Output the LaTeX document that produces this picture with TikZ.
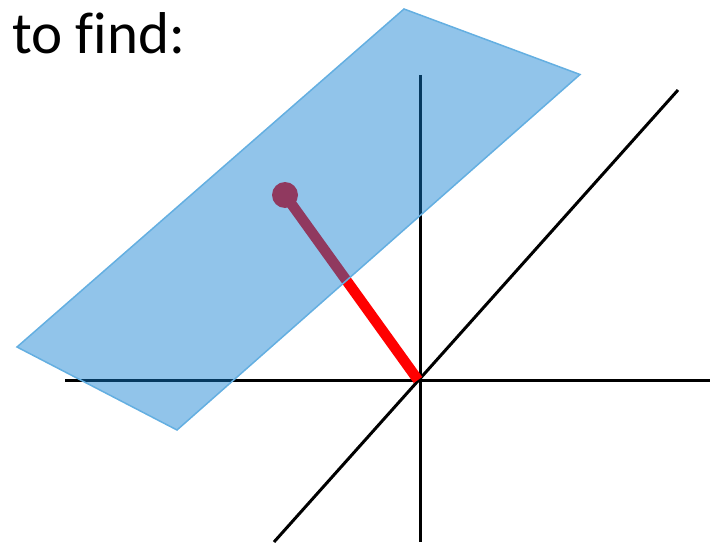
\documentclass[tikz,border=0pt]{standalone}
\usepackage{fontspec}
\setmainfont{Carlito}[Ligatures=NoCommon]
\usepackage{tikz}
\usetikzlibrary{positioning,calc}
\definecolor{planeblue}{RGB}{15,126,209}
\definecolor{planeedge}{RGB}{100,175,225}
\tikzset{
  axisline/.style={draw=black,line width=3pt},
  vecline/.style={draw=red,line width=10.5pt},
  tipdot/.style={circle,fill=red,inner sep=0pt,minimum size=26pt},
  plane/.style={fill=planeblue,fill opacity=0.46,draw=planeedge,line width=1.5pt},
  title/.style={font=\fontsize{59}{59}\selectfont,anchor=base west,inner sep=0pt},
}

\begin{document}
\begin{tikzpicture}[x=1pt,y=-1pt]
  \useasboundingbox (0,0) rectangle (710,543);
  \coordinate (xl) at (65,380);  \coordinate (xr) at (710,380);
  \coordinate (zt) at (420,75);  \coordinate (zb) at (420,542);
  \coordinate (yt) at (678,90);  \coordinate (yb) at (274,542);
  \coordinate (orig) at (418,380);
  \node[title] (lbl) at (12,54) {to find:};
  \draw[axisline] (xl) -- (xr);
  \draw[axisline] (zt) -- (zb);
  \draw[axisline] (yb) -- (yt);
  \node[tipdot] (tip) at (285,195) {};
  \draw[vecline] (tip.center) -- (orig);
  % plane goes over the rest
  \draw[plane] (404,9) -- (580,74.5) -- (177,430) -- (17,347) -- cycle;
\end{tikzpicture}
\end{document}
